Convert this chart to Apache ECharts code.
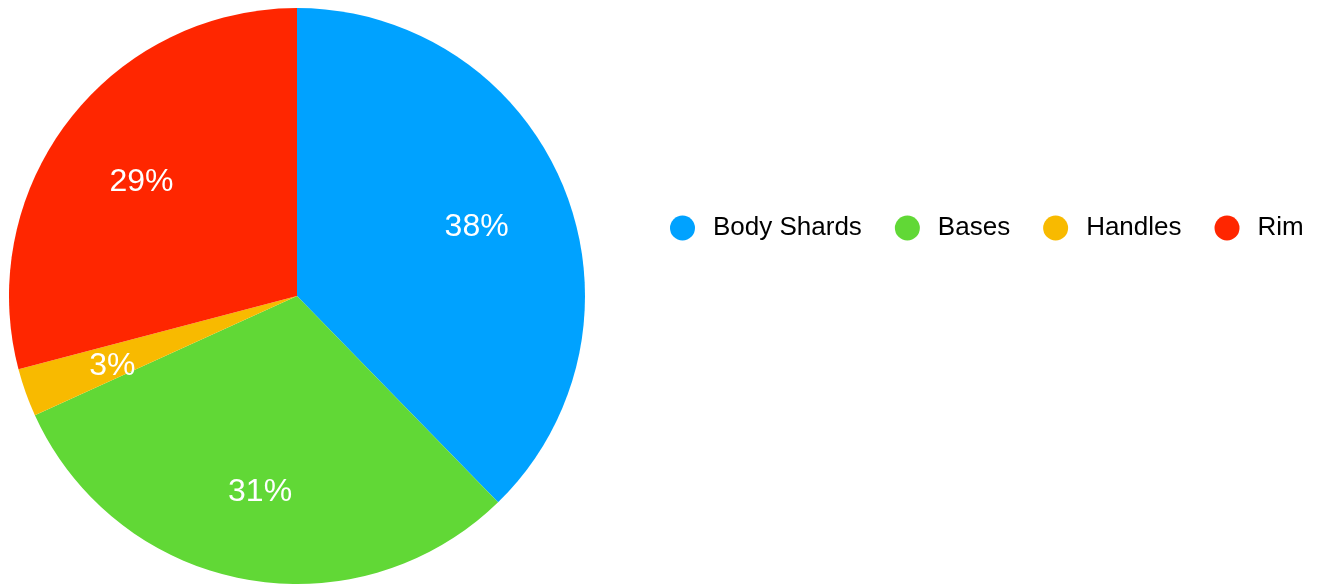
<!DOCTYPE html>
<html>
<head>
<meta charset="utf-8">
<style>
  html, body { margin: 0; padding: 0; background: #ffffff; }
  #chart { width: 1323px; height: 584px; }
</style>
<script src="https://cdn.jsdelivr.net/npm/echarts@6/dist/echarts.min.js"></script>
</head>
<body>
<div id="chart"></div>
<script>
const categories = ['Body Shards', 'Bases', 'Handles', 'Rim'];
const values = [37.7, 30.5, 2.7, 29.1];
const colors = ['#00A2FF', '#61D836', '#F8BA00', '#FF2600'];

const total = values.reduce((a, b) => a + b, 0);
const pieData = categories.map((name, i) => ({ name: name, value: values[i], itemStyle: { color: colors[i] } }));
const labelData = categories.map((name, i) => ({ name: name, value: values[i] }));

const chart = echarts.init(document.getElementById('chart'), null, { renderer: 'canvas' });
chart.setOption({
  animation: false,
  backgroundColor: '#ffffff',
  textStyle: { fontFamily: 'Liberation Sans, Arial, sans-serif' },
  legend: {
    data: categories,
    orient: 'horizontal',
    left: 670,
    top: 215,
    padding: 0,
    icon: 'circle',
    itemWidth: 25,
    itemHeight: 26,
    itemGap: 33,
    textStyle: {
      fontSize: 26,
      color: '#000000',
      fontFamily: 'Liberation Sans, Arial, sans-serif',
      padding: [0, 0, 0, 13]
    },
    selectedMode: false
  },
  series: [
    {
      type: 'pie',
      center: [297, 296],
      radius: [0, 288],
      startAngle: 90,
      clockwise: true,
      data: pieData,
      label: { show: false },
      labelLine: { show: false },
      emphasis: { disabled: true },
      itemStyle: { borderWidth: 0 }
    },
    {
      type: 'pie',
      center: [297, 296],
      radius: [96, 288],
      startAngle: 90,
      clockwise: true,
      silent: true,
      data: labelData,
      itemStyle: { color: 'rgba(0,0,0,0)', borderWidth: 0 },
      emphasis: { disabled: true },
      labelLine: { show: false },
      label: {
        show: true,
        position: 'inside',
        color: '#ffffff',
        fontSize: 32,
        offset: [-1, 5],
        fontFamily: 'Liberation Sans, Arial, sans-serif',
        formatter: function (p) { return Math.round(p.value / total * 100) + '%'; }
      }
    }
  ]
});
</script>
</body>
</html>
